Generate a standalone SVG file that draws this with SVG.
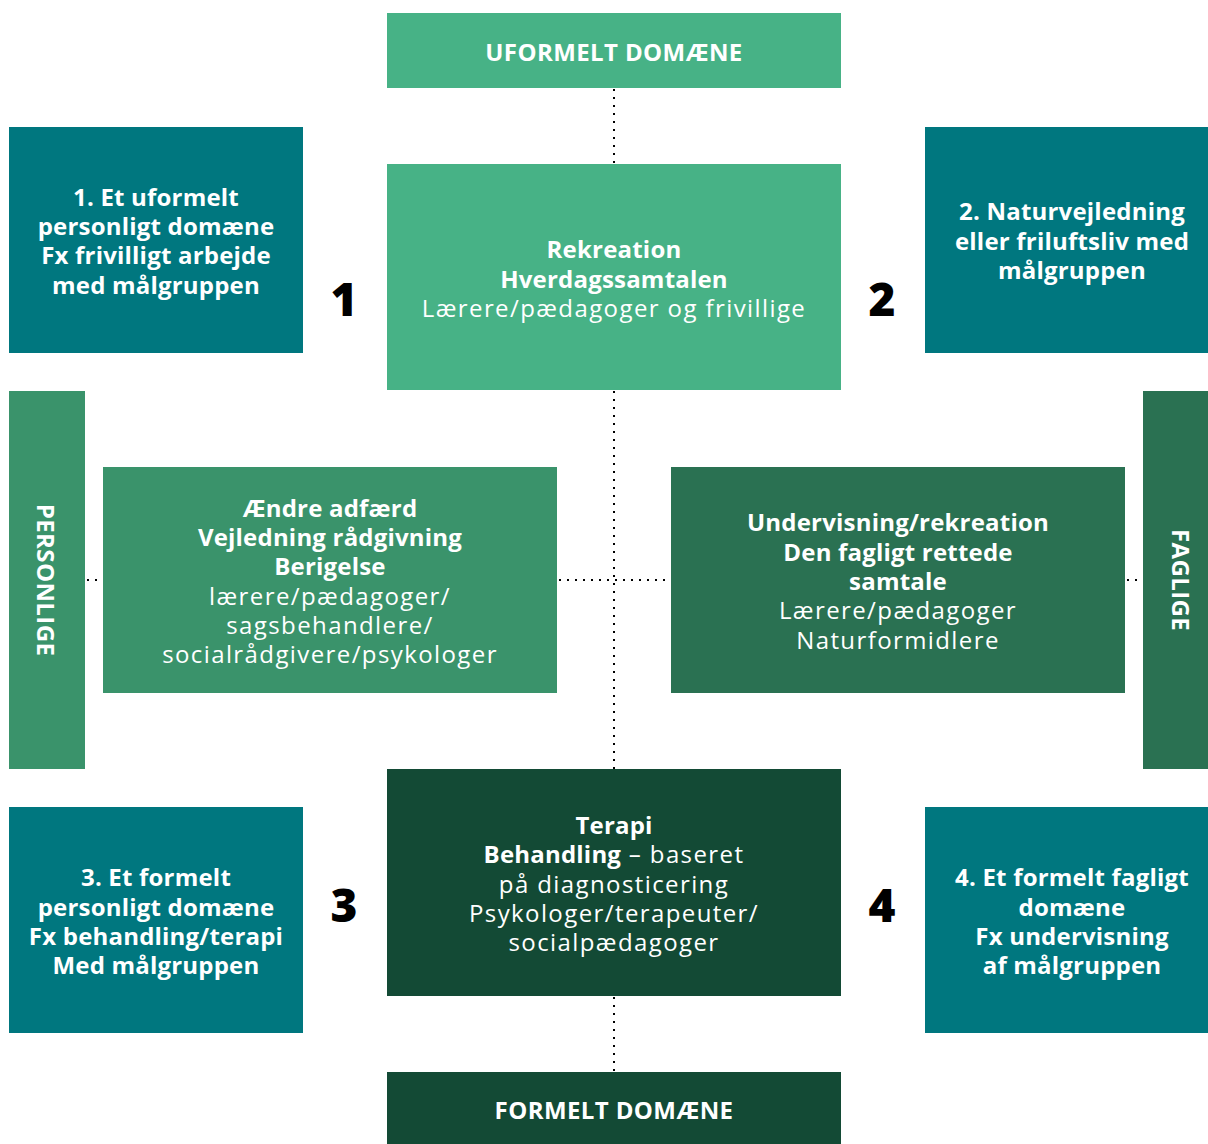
<svg xmlns="http://www.w3.org/2000/svg" width="1208" height="1144" viewBox="0 0 1208 1144">
  <style>
    text { font-family: "Open Sans", "Liberation Sans", sans-serif; fill: #ffffff; text-anchor: middle; }
    .b { font-size: 24px; font-weight: 700; letter-spacing: 0.2px; }
    .r { font-size: 24px; font-weight: 400; letter-spacing: 1.4px; }
    .title { font-size: 24px; font-weight: 700; letter-spacing: 0.4px; }
    .num { font-size: 46px; font-weight: 800; fill: #000000; }
    .dots { stroke: #000000; stroke-width: 2; stroke-dasharray: 2 6; fill: none; }
    .c-light { fill: #47b286; }
    .c-mid { fill: #3a936b; }
    .c-dark { fill: #2a7152; }
    .c-deep { fill: #134a35; }
    .c-teal { fill: #00777f; }
  </style>
  <rect width="1208" height="1144" fill="#ffffff"/>

  <!-- dotted connectors -->
  <g id="connectors">
    <line class="dots" x1="614" y1="89" x2="614" y2="164"/>
    <line class="dots" x1="614" y1="391" x2="614" y2="769"/>
    <line class="dots" x1="614" y1="997" x2="614" y2="1072"/>
    <line class="dots" x1="87" y1="580" x2="103" y2="580"/>
    <line class="dots" x1="559" y1="580" x2="671" y2="580"/>
    <line class="dots" x1="1127" y1="580" x2="1143" y2="580"/>
  </g>

  <g id="uformelt-domaene">
    <rect class="c-light" x="387" y="13" width="454" height="75"/>
    <text class="title" x="614" y="61">UFORMELT DOMÆNE</text>
  </g>

  <g id="domaene-1">
    <rect class="c-teal" x="9" y="127" width="294" height="226"/>
    <text class="b" x="156" y="206">1. Et uformelt</text>
    <text class="b" x="156" y="235">personligt domæne</text>
    <text class="b" x="156" y="264">Fx frivilligt arbejde</text>
    <text class="b" x="156" y="294">med målgruppen</text>
  </g>

  <g id="rekreation">
    <rect class="c-light" x="387" y="164" width="454" height="226"/>
    <text class="b" x="614" y="258">Rekreation</text>
    <text class="b" x="614" y="288">Hverdagssamtalen</text>
    <text class="r" x="614" y="317">Lærere/pædagoger og frivillige</text>
  </g>

  <g id="domaene-2">
    <rect class="c-teal" x="925" y="127" width="283" height="226"/>
    <text class="b" x="1072" y="220">2. Naturvejledning</text>
    <text class="b" x="1072" y="250">eller friluftsliv med</text>
    <text class="b" x="1072" y="279">målgruppen</text>
  </g>

  <g id="num-1"><text class="num" x="344" y="316">1</text></g>
  <g id="num-2"><text class="num" x="882" y="316">2</text></g>

  <g id="personlige">
    <rect class="c-mid" x="9" y="391" width="76" height="378"/>
    <text class="title" transform="translate(37 580) rotate(90)">PERSONLIGE</text>
  </g>

  <g id="aendre-adfaerd">
    <rect class="c-mid" x="103" y="467" width="454" height="226"/>
    <text class="b" x="330" y="517">Ændre adfærd</text>
    <text class="b" x="330" y="546">Vejledning rådgivning</text>
    <text class="b" x="330" y="575">Berigelse</text>
    <text class="r" x="330" y="605">lærere/pædagoger/</text>
    <text class="r" x="330" y="634">sagsbehandlere/</text>
    <text class="r" x="330" y="663">socialrådgivere/psykologer</text>
  </g>

  <g id="undervisning">
    <rect class="c-dark" x="671" y="467" width="454" height="226"/>
    <text class="b" x="898" y="531">Undervisning/rekreation</text>
    <text class="b" x="898" y="561">Den fagligt rettede</text>
    <text class="b" x="898" y="590">samtale</text>
    <text class="r" x="898" y="619">Lærere/pædagoger</text>
    <text class="r" x="898" y="649">Naturformidlere</text>
  </g>

  <g id="faglige">
    <rect class="c-dark" x="1143" y="391" width="65" height="378"/>
    <text class="title" transform="translate(1172 580) rotate(90)">FAGLIGE</text>
  </g>

  <g id="terapi">
    <rect class="c-deep" x="387" y="769" width="454" height="227"/>
    <text class="b" x="614" y="834">Terapi</text>
    <text x="614" y="863"><tspan class="b">Behandling</tspan><tspan class="r"> – baseret</tspan></text>
    <text class="r" x="614" y="893">på diagnosticering</text>
    <text class="r" x="614" y="922">Psykologer/terapeuter/</text>
    <text class="r" x="614" y="951">socialpædagoger</text>
  </g>

  <g id="domaene-3">
    <rect class="c-teal" x="9" y="807" width="294" height="226"/>
    <text class="b" x="156" y="886">3. Et formelt</text>
    <text class="b" x="156" y="916">personligt domæne</text>
    <text class="b" x="156" y="945">Fx behandling/terapi</text>
    <text class="b" x="156" y="974">Med målgruppen</text>
  </g>

  <g id="domaene-4">
    <rect class="c-teal" x="925" y="807" width="283" height="226"/>
    <text class="b" x="1072" y="886">4. Et formelt fagligt</text>
    <text class="b" x="1072" y="916">domæne</text>
    <text class="b" x="1072" y="945">Fx undervisning</text>
    <text class="b" x="1072" y="974">af målgruppen</text>
  </g>

  <g id="num-3"><text class="num" x="344" y="922">3</text></g>
  <g id="num-4"><text class="num" x="882" y="922">4</text></g>

  <g id="formelt-domaene">
    <rect class="c-deep" x="387" y="1072" width="454" height="72"/>
    <text class="title" x="614" y="1119">FORMELT DOMÆNE</text>
  </g>
</svg>
